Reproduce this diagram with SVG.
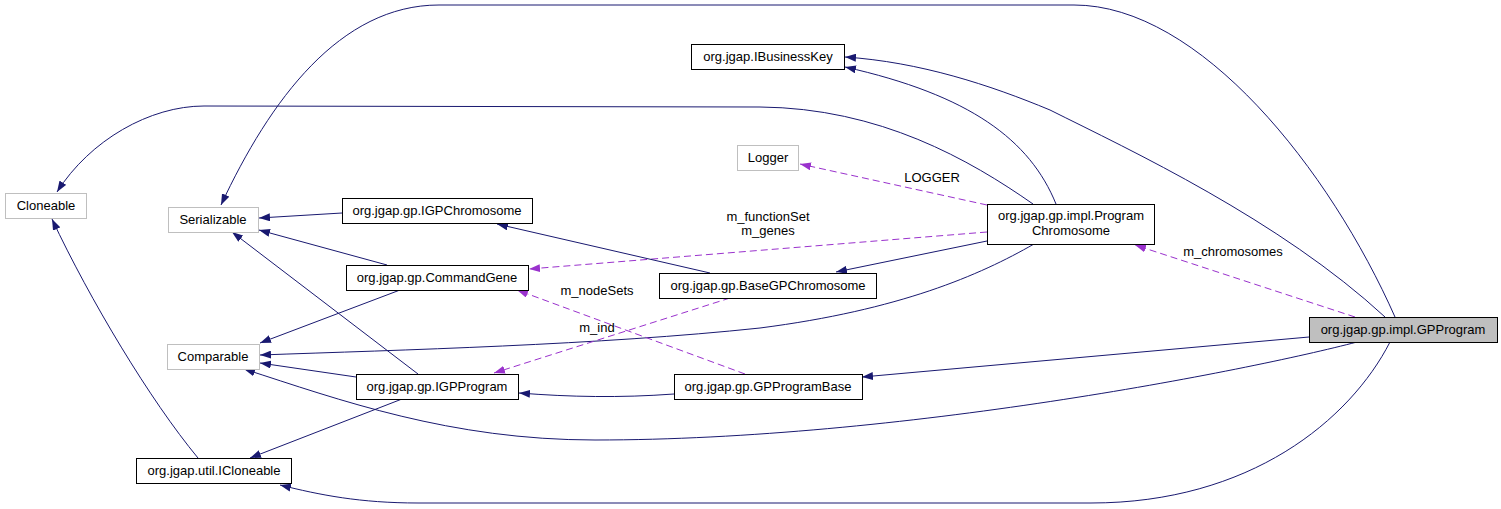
<svg xmlns="http://www.w3.org/2000/svg" width="1501" height="509" viewBox="0 0 1501 509">
<style>
  .bg { fill: #ffffff; }
  .box { fill: #ffffff; stroke: #000000; stroke-width: 1; }
  .gbox { fill: #ffffff; stroke: #bfbfbf; stroke-width: 1; }
  .sel { fill: #bfbfbf; stroke: #000000; stroke-width: 1; }
  text { font-family: "Liberation Sans", Arial, Helvetica, sans-serif; font-size: 13px; fill: #000000; text-anchor: middle; }
  .inh { fill: none; stroke: #191970; stroke-width: 1; marker-end: url(#ab); }
  .use { fill: none; stroke: #9a32cd; stroke-width: 1; stroke-dasharray: 7,4; marker-end: url(#ap); }
</style>
<defs>
  <marker id="ab" markerUnits="userSpaceOnUse" markerWidth="11" markerHeight="8" viewBox="0 0 11 8" refX="11" refY="4" orient="auto">
    <path d="M0,0 L11,4 L0,8 z" fill="#191970" stroke="none"/>
  </marker>
  <marker id="ap" markerUnits="userSpaceOnUse" markerWidth="11" markerHeight="8" viewBox="0 0 11 8" refX="11" refY="4" orient="auto">
    <path d="M0,0 L11,4 L0,8 z" fill="#9a32cd" stroke="none"/>
  </marker>
</defs>
<rect class="bg" x="0" y="0" width="1501" height="509"/>

<g id="connectors">
  <path class="inh" d="M1395,317 C1330,170 1200,5 1074,5 L439,5 C340,5 270,100 221,205"/>
  <path class="inh" d="M1385,317 C1280,220 1130,150 1050,110 C990,85 920,62 845,57"/>
  <path class="inh" d="M1056,204 C1030,140 970,95 845,67"/>
  <path class="inh" d="M1033,204 C970,160 880,108 760,107 L204,106 C150,106 90,140 57,192"/>
  <path class="use" d="M987,205 L800,164"/>
  <path class="use" d="M987,232 L529,269"/>
  <path class="inh" d="M987,241 L836,272"/>
  <path class="inh" d="M1034,244 C980,275 900,310 760,328 C600,345 400,350 260,355"/>
  <path class="use" d="M1355,317 L1135,245"/>
  <path class="inh" d="M342,213 L259,218"/>
  <path class="inh" d="M387,265 L259,230"/>
  <path class="inh" d="M418,374 L232,232"/>
  <path class="inh" d="M400,290 L260,343"/>
  <path class="inh" d="M356,377 L260,363"/>
  <path class="inh" d="M402,399 L250,458"/>
  <path class="inh" d="M710,273 L497,224"/>
  <path class="use" d="M730,298 L494,373"/>
  <path class="use" d="M745,374 L517,290"/>
  <path class="inh" d="M674,394 C620,398 570,397 519,393"/>
  <path class="inh" d="M1309,337 L862,377"/>
  <path class="inh" d="M1357,342 C1250,370 900,440 595,440 C450,440 340,400 244,369"/>
  <path class="inh" d="M1390,342 C1350,420 1250,503 1091,503 L418,503 C360,503 320,495 280,485"/>
  <path class="inh" d="M198,458 C150,400 90,300 52,219"/>
  <text x="932" y="182">LOGGER</text>
  <text x="768" y="221">m_functionSet</text>
  <text x="768" y="235">m_genes</text>
  <text x="1233" y="256">m_chromosomes</text>
  <text x="597" y="295">m_nodeSets</text>
  <text x="597" y="332">m_ind</text>
</g>

<g id="node-IBusinessKey">
  <rect class="box" x="691.5" y="44.5" width="153" height="25"/>
  <text x="768" y="61">org.jgap.IBusinessKey</text>
</g>
<g id="node-Logger">
  <rect class="gbox" x="737.5" y="145.5" width="61" height="25"/>
  <text x="768" y="162">Logger</text>
</g>
<g id="node-ProgramChromosome">
  <rect class="box" x="987.5" y="204.5" width="167" height="40"/>
  <text x="1071" y="220">org.jgap.gp.impl.Program</text>
  <text x="1071" y="235">Chromosome</text>
</g>
<g id="node-Cloneable">
  <rect class="gbox" x="5.5" y="193.5" width="81" height="25"/>
  <text x="46" y="210">Cloneable</text>
</g>
<g id="node-Serializable">
  <rect class="gbox" x="168.5" y="207.5" width="90" height="25"/>
  <text x="213" y="224">Serializable</text>
</g>
<g id="node-IGPChromosome">
  <rect class="box" x="342.5" y="198.5" width="190" height="25"/>
  <text x="437" y="215">org.jgap.gp.IGPChromosome</text>
</g>
<g id="node-CommandGene">
  <rect class="box" x="346.5" y="265.5" width="182" height="25"/>
  <text x="437" y="282">org.jgap.gp.CommandGene</text>
</g>
<g id="node-BaseGPChromosome">
  <rect class="box" x="659.5" y="273.5" width="217" height="25"/>
  <text x="768" y="290">org.jgap.gp.BaseGPChromosome</text>
</g>
<g id="node-Comparable">
  <rect class="gbox" x="167.5" y="344.5" width="92" height="25"/>
  <text x="213" y="361">Comparable</text>
</g>
<g id="node-IGPProgram">
  <rect class="box" x="356.5" y="374.5" width="162" height="25"/>
  <text x="437" y="391">org.jgap.gp.IGPProgram</text>
</g>
<g id="node-GPProgramBase">
  <rect class="box" x="674.5" y="374.5" width="188" height="25"/>
  <text x="768" y="391">org.jgap.gp.GPProgramBase</text>
</g>
<g id="node-ICloneable">
  <rect class="box" x="136.5" y="458.5" width="155" height="25"/>
  <text x="214" y="475">org.jgap.util.ICloneable</text>
</g>
<g id="node-GPProgram">
  <rect class="sel" x="1309.5" y="317.5" width="188" height="25"/>
  <text x="1403" y="334">org.jgap.gp.impl.GPProgram</text>
</g>
</svg>
